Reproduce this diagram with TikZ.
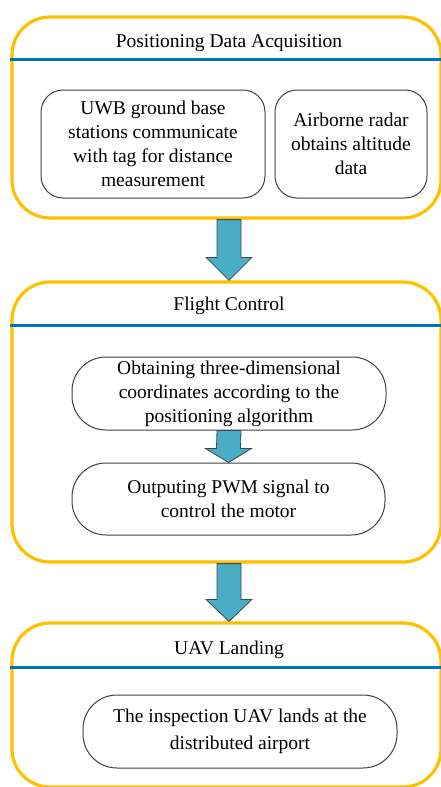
\documentclass[tikz,border=0pt]{standalone}
\usepackage{fontspec}
\setmainfont{Liberation Serif}
\usetikzlibrary{calc}
\definecolor{gold}{HTML}{FFC000}
\definecolor{lineblue}{HTML}{0070C0}
\definecolor{arrfill}{HTML}{4BACC6}
\definecolor{arrline}{HTML}{3A4A50}
\tikzset{
  x=1pt, y=-1pt,
  stage/.style={draw=gold, line width=3.2pt, rounded corners=38pt, inner sep=0pt},
  divider/.style={draw=lineblue, line width=3pt},
  title/.style={font=\fontsize{19.5}{23}\selectfont, inner sep=0pt},
  task/.style={draw=black!75, line width=1pt, rounded corners=#1, inner sep=0pt,
     align=center, font=\fontsize{19.5}{24}\selectfont},
  task/.default=22pt,
  blockarrow/.style={fill=arrfill, draw=arrline, line width=0.8pt, line join=miter}
}
\newcommand\blockarr[3]{% from, to, head length
  \path[blockarrow] ($(#1)+(-12,0)$) -- ($(#2)+(-12,-#3)$) -- ($(#2)+(-23,-#3)$) -- (#2)
    -- ($(#2)+(23,-#3)$) -- ($(#2)+(12,-#3)$) -- ($(#1)+(12,0)$) -- cycle;}
\begin{document}
\begin{tikzpicture}
\clip (0,0) rectangle (441,787);
\fill[white] (0,0) rectangle (441,787);
% stage 1
\node[stage, minimum width=429pt, minimum height=201pt] (s1) at (226.5,117.5) {};
\node[title] (t1) at (229,43) {Positioning Data Acquisition};
\draw[divider] (s1.west |- 0,59) -- (s1.east |- 0,59) -- ++(10,0);
\node[task, minimum width=224pt, minimum height=108pt] (uwb) at (153,144)
  {UWB ground base\\stations communicate\\with tag for distance\\measurement};
\node[task, minimum width=152pt, minimum height=108pt] (radar) at (351,144)
  {Airborne radar\\obtains altitude\\data};
% stage 2
\node[stage, minimum width=429pt, minimum height=280pt] (s2) at (226.5,422) {};
\node[title] (t2) at (229,306) {Flight Control};
\draw[divider] (s2.west |- 0,325) -- (s2.east |- 0,325) -- ++(10,0);
\node[task=34pt, minimum width=314pt, minimum height=73pt] (coord) at (229,393.5)
  {Obtaining three-dimensional\\coordinates according to the\\positioning algorithm};
\node[task=34pt, minimum width=313pt, minimum height=72pt] (pwm) at (228.5,499)
  {Outputing PWM signal to\\control the motor};
% stage 3
\node[stage, minimum width=429pt, minimum height=164pt] (s3) at (226.5,705) {};
\node[title] (t3) at (229,650) {UAV Landing};
\draw[divider] (s3.west |- 0,667) -- (s3.east |- 0,667) -- ++(10,0);
\node[task=34pt, minimum width=314pt, minimum height=73pt, font=\fontsize{19.5}{27}\selectfont] (land) at (240,731.5)
  {The inspection UAV lands at the\\distributed airport};
% arrows
\coordinate (a1s) at ($(s1.south)+(2.5,0)$);
\coordinate (a1e) at ($(s2.north)+(2.5,0)$);
\blockarr{a1s}{a1e}{23}
\blockarr{coord.south}{pwm.north}{14}
\coordinate (a2s) at ($(s2.south)+(2.5,0)$);
\coordinate (a2e) at ($(s3.north)+(2.5,0)$);
\blockarr{a2s}{a2e}{22}
\end{tikzpicture}
\end{document}
